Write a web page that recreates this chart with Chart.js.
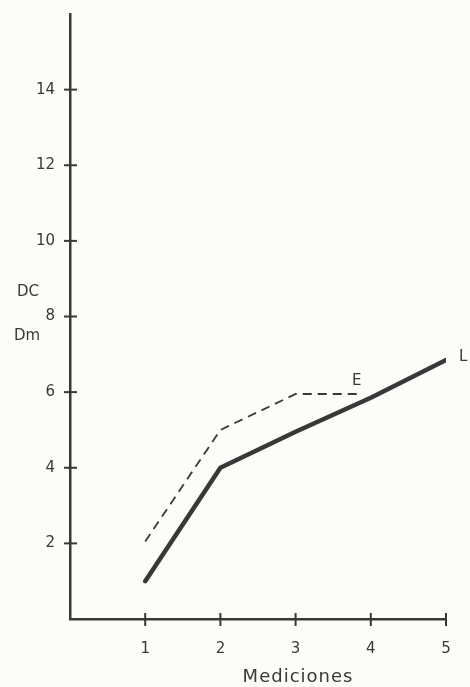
<!DOCTYPE html>
<html>
<head>
<meta charset="utf-8">
<script src="https://cdn.jsdelivr.net/npm/chart.js@4/dist/chart.umd.min.js"></script>
<style>
    body { margin: 0; background: #fcfcf8; }
    #chart { display: block; }
</style>
</head>
<body>
<canvas id="chart" width="470" height="687"></canvas>
<script>
// DATA

const mediciones = [1, 2, 3, 4, 5];
const serieL = [1.0, 4.0, 4.95, 5.85, 6.85];
const medicionesE = [1, 2, 3, 3.88];
const serieE = [2.05, 5.0, 5.95, 5.95];
const yTicks = [2, 4, 6, 8, 10, 12, 14];
const xTicks = [1, 2, 3, 4, 5];

const ink = "#383838";
const font = "DejaVu Sans, Verdana, sans-serif";

function toPoints(xs, ys) {
    return xs.map((x, i) => ({ x: x, y: ys[i] }));
}

// tick marks crossing the axes, line labels, axis titles
const decorations = {
    id: "decorations",
    afterDraw(chart) {
        const ctx = chart.ctx;
        const xs = chart.scales.x;
        const ys = chart.scales.y;
        const left = xs.left;
        const bottom = ys.bottom;

        ctx.save();
        ctx.strokeStyle = ink;
        ctx.lineWidth = 2;
        yTicks.forEach(v => {
            let py = ys.getPixelForValue(v);
            ctx.beginPath();
            ctx.moveTo(left - 6, py);
            ctx.lineTo(left + 7, py);
            ctx.stroke();
        });
        xTicks.forEach(v => {
            let px = xs.getPixelForValue(v);
            ctx.beginPath();
            ctx.moveTo(px, bottom - 6);
            ctx.lineTo(px, bottom + 7);
            ctx.stroke();
        });

        ctx.fillStyle = ink;
        ctx.font = "15px " + font;
        ctx.textAlign = "left";
        ctx.textBaseline = "middle";
        let lastL = serieL.length - 1;
        ctx.fillText("L", xs.getPixelForValue(mediciones[lastL]) + 13, ys.getPixelForValue(serieL[lastL]) - 3);
        ctx.textAlign = "center";
        ctx.fillText("E", xs.getPixelForValue(3.8) + 1, ys.getPixelForValue(serieE[3]) - 13);

        ctx.fillText("DC", 28, ys.getPixelForValue(8) - 24);
        ctx.fillText("Dm", 27, ys.getPixelForValue(8) + 20);

        ctx.font = "18px " + font;
        ctx.letterSpacing = "1px";
        ctx.fillText("Mediciones", 298, 677);
        ctx.restore();
    }
};

new Chart(document.getElementById("chart"), {
    type: "scatter",
    data: {
        datasets: [{
            label: "L",
            data: toPoints(mediciones, serieL),
            showLine: true,
            borderColor: ink,
            borderWidth: 4.5,
            pointRadius: 0,
            borderCapStyle: "round",
            borderJoinStyle: "round"
        }, {
            label: "E",
            data: toPoints(medicionesE, serieE),
            showLine: true,
            borderColor: ink,
            borderWidth: 1.8,
            borderDash: [9, 6],
            pointRadius: 0
        }]
    },
    options: {
        responsive: false,
        animation: false,
        layout: {
            padding: { top: 14, right: 24, left: 0, bottom: 0 }
        },
        plugins: {
            legend: { display: false },
            tooltip: { enabled: false }
        },
        scales: {
            x: {
                type: "linear",
                min: 0,
                max: 5,
                afterFit(scale) {
                    scale.height = 68;
                    scale.paddingLeft = 0;
                    scale.paddingRight = 0;
                },
                border: { color: ink, width: 2.5 },
                grid: { display: false, drawTicks: false },
                ticks: {
                    stepSize: 1,
                    padding: 21,
                    color: ink,
                    font: { family: font, size: 15 },
                    callback: v => (v === 0 ? "" : v)
                }
            },
            y: {
                min: 0,
                max: 16,
                afterFit(scale) {
                    scale.width = 70;
                    scale.paddingTop = 0;
                    scale.paddingBottom = 0;
                },
                border: { color: ink, width: 2.5 },
                grid: { display: false, drawTicks: false },
                ticks: {
                    stepSize: 2,
                    padding: 15,
                    color: ink,
                    font: { family: font, size: 15 },
                    callback: v => (v === 0 || v === 16 ? "" : v)
                }
            }
        }
    },
    plugins: [decorations]
});
</script>
</body>
</html>
